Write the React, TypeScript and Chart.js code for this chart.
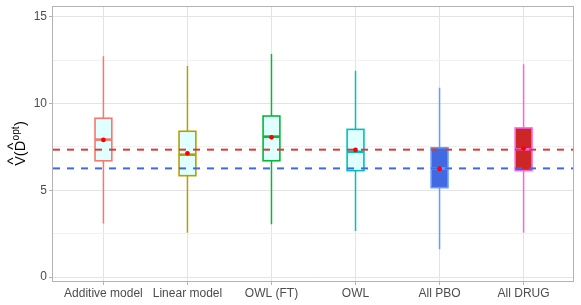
import React, { useEffect, useRef } from "react";
import { Chart, registerables } from "chart.js";

Chart.register(...registerables);

// ---- data ----
const categories = ["Additive model", "Linear model", "OWL (FT)", "OWL", "All PBO", "All DRUG"];
const whiskerLow = [3.08, 2.55, 3.04, 2.65, 1.6, 2.55];
const q1 = [6.7, 5.84, 6.7, 6.13, 5.15, 6.13];
const medians = [7.92, 7.05, 8.09, 7.22, 6.26, 7.36];
const q3 = [9.15, 8.4, 9.28, 8.51, 7.45, 8.59];
const whiskerHigh = [12.72, 12.16, 12.85, 11.89, 10.91, 12.26];
const means = [7.9, 7.13, 8.05, 7.32, 6.24, 7.4];
const refDrug = 7.34;
const refPbo = 6.26;
const yTicks = [0, 5, 10, 15];
const yMinorTicks = [2.5, 7.5, 12.5];

// ---- styles ----
const lineColors = ["#F8766D", "#B79F00", "#00BA38", "#00BFC4", "#619CFF", "#F564E3"];
const fillColors = ["#E0FFFF", "#E0FFFF", "#E0FFFF", "#E0FFFF", "#4169E1", "#CD2626"];
const BOX_HALF = 0.1;
const FONT = "'Liberation Sans', Arial, sans-serif";

const boxPlugin = {
  id: "boxes",
  beforeDatasetsDraw(chart: any) {
    const { ctx, scales } = chart;
    const x = scales.x;
    const y = scales.y;
    ctx.save();
    categories.forEach((_, i) => {
      const cx = x.getPixelForValue(i);
      const l = x.getPixelForValue(i - BOX_HALF);
      const r = x.getPixelForValue(i + BOX_HALF);
      const top = y.getPixelForValue(q3[i]);
      const bot = y.getPixelForValue(q1[i]);
      // whiskers
      ctx.strokeStyle = lineColors[i];
      ctx.lineWidth = 1.5;
      ctx.beginPath();
      ctx.moveTo(cx, y.getPixelForValue(whiskerHigh[i]));
      ctx.lineTo(cx, top);
      ctx.moveTo(cx, bot);
      ctx.lineTo(cx, y.getPixelForValue(whiskerLow[i]));
      ctx.stroke();
      // box
      ctx.fillStyle = fillColors[i];
      ctx.fillRect(l, top, r - l, bot - top);
      ctx.lineWidth = 1.6;
      ctx.strokeRect(l, top, r - l, bot - top);
      // median
      ctx.lineWidth = 2.6;
      const m = y.getPixelForValue(medians[i]);
      ctx.beginPath();
      ctx.moveTo(l, m);
      ctx.lineTo(r, m);
      ctx.stroke();
    });
    ctx.restore();
  },
  afterDraw(chart: any) {
    const { ctx, chartArea } = chart;
    ctx.save();
    // panel border
    ctx.strokeStyle = "#B3B3B3";
    ctx.lineWidth = 1;
    ctx.strokeRect(chartArea.left - 0.5, chartArea.top + 0.5, chartArea.right - chartArea.left, chartArea.bottom - chartArea.top);
    // y axis title: V-hat ( D-hat ^opt )
    const cy = (chartArea.top + chartArea.bottom) / 2;
    ctx.translate(25, cy);
    ctx.rotate(-Math.PI / 2);
    ctx.fillStyle = "#000000";
    ctx.textBaseline = "alphabetic";
    ctx.textAlign = "left";
    const big = `14.5px ${FONT}`;
    const small = `10px ${FONT}`;
    const hat = `15px ${FONT}`;
    ctx.font = big;
    const wV = ctx.measureText("V").width;
    const wP = ctx.measureText("(").width;
    const wD = ctx.measureText("D").width;
    const wC = ctx.measureText(")").width;
    ctx.font = small;
    const wOpt = ctx.measureText("opt").width;
    const total = wV + wP + wD + wOpt + wC + 1;
    let px = -total / 2;
    ctx.font = big;
    ctx.fillText("V", px, 0);
    ctx.font = hat;
    ctx.textAlign = "center";
    ctx.fillText("^", px + wV / 2, -7);
    ctx.textAlign = "left";
    px += wV;
    ctx.font = big;
    ctx.fillText("(", px, 0);
    px += wP;
    ctx.fillText("D", px, 0);
    ctx.font = hat;
    ctx.textAlign = "center";
    ctx.fillText("^", px + wD / 2, -7);
    ctx.textAlign = "left";
    px += wD;
    ctx.font = small;
    ctx.fillText("opt", px + 0.5, -6.5);
    px += wOpt + 1;
    ctx.font = big;
    ctx.fillText(")", px, 0);
    ctx.restore();
  },
};

export default function App() {
  const ref = useRef<HTMLCanvasElement | null>(null);

  useEffect(() => {
    document.body.style.margin = "0";
    const canvas = ref.current;
    if (!canvas) return;
    const allY = [...yTicks, ...yMinorTicks].sort((a, b) => a - b);
    const chart = new Chart(canvas, {
      type: "scatter",
      data: {
        datasets: [
          {
            type: "scatter",
            data: means.map((v, i) => ({ x: i, y: v })),
            backgroundColor: "#FF0000",
            borderWidth: 0,
            pointRadius: 2.4,
            order: 0,
          } as any,
          {
            type: "line",
            data: [
              { x: -0.6, y: refDrug },
              { x: 5.6, y: refDrug },
            ],
            borderColor: "#D93B3B",
            borderWidth: 2,
            borderDash: [7, 7],
            pointRadius: 0,
            showLine: true,
            order: 1,
          } as any,
          {
            type: "line",
            data: [
              { x: -0.6, y: refPbo },
              { x: 5.6, y: refPbo },
            ],
            borderColor: "#4169E1",
            borderWidth: 2,
            borderDash: [7, 7],
            pointRadius: 0,
            showLine: true,
            order: 1,
          } as any,
        ],
      },
      options: {
        animation: false,
        responsive: false,
        maintainAspectRatio: false,
        layout: { padding: { top: 6, right: 7, left: 0, bottom: 0 } },
        plugins: { legend: { display: false }, tooltip: { enabled: false } },
        scales: {
          x: {
            type: "linear",
            min: -0.6,
            max: 5.6,
            afterBuildTicks: (s: any) => {
              s.ticks = categories.map((_, i) => ({ value: i }));
            },
            afterFit: (s: any) => {
              s.height = 24;
              s.paddingLeft = 0;
              s.paddingRight = 0;
            },
            ticks: {
              callback: (v: any) => categories[v] ?? "",
              color: "#4D4D4D",
              font: { family: FONT, size: 12 },
              padding: 1,
              maxRotation: 0,
              autoSkip: false,
            },
            grid: { color: "#E3E3E3", tickColor: "#B3B3B3", tickLength: 4, lineWidth: 1 },
            border: { display: false },
          },
          y: {
            type: "linear",
            min: -0.23,
            max: 15.62,
            afterBuildTicks: (s: any) => {
              s.ticks = allY.map((v) => ({ value: v }));
            },
            afterFit: (s: any) => {
              s.width = 53;
              s.paddingTop = 0;
              s.paddingBottom = 0;
            },
            ticks: {
              callback: (v: any) => (yTicks.includes(v) ? String(v) : ""),
              color: "#4D4D4D",
              font: { family: FONT, size: 12 },
              padding: 2,
              autoSkip: false,
            },
            grid: {
              color: (c: any) => (yTicks.includes(c.tick?.value) ? "#E3E3E3" : "#F1F1F1"),
              tickColor: (c: any) => (yTicks.includes(c.tick?.value) ? "#B3B3B3" : "rgba(0,0,0,0)"),
              tickLength: 4,
              lineWidth: 1,
            },
            border: { display: false },
          },
        },
      },
      plugins: [boxPlugin],
    });
    return () => chart.destroy();
  }, []);

  return <canvas ref={ref} width={581} height={305} style={{ display: "block" }} />;
}
